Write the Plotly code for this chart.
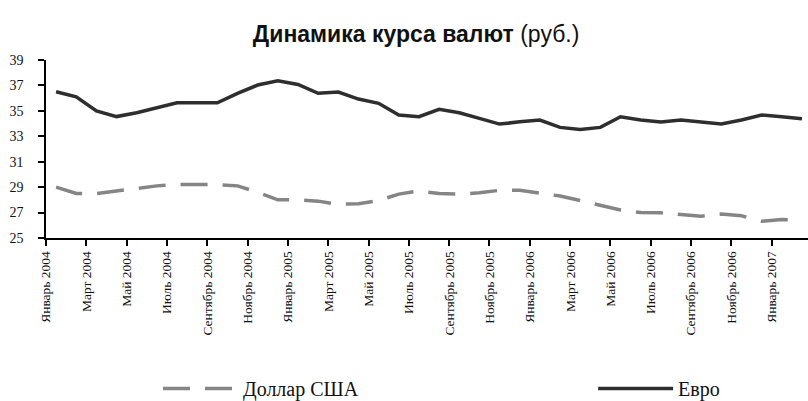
import plotly.graph_objects as go

months = ["Январь", "Февраль", "Март", "Апрель", "Май", "Июнь", "Июль", "Август",
          "Сентябрь", "Октябрь", "Ноябрь", "Декабрь"]
years = [2004, 2005, 2006, 2007]
categories = [f"{months[m]} {y}" for y in years for m in range(12)][:38]  # Январь 2004 .. Февраль 2007

usd = [29.0, 28.5, 28.5, 28.7, 28.85, 29.1, 29.2, 29.2, 29.2, 29.1, 28.6, 28.0,
       28.0, 27.9, 27.65, 27.7, 27.95, 28.45, 28.7, 28.5, 28.45, 28.55, 28.75, 28.75,
       28.5, 28.3, 27.95, 27.6, 27.2, 27.0, 26.98, 26.85, 26.72, 26.88, 26.75, 26.32,
       26.45, 26.4]
eur = [36.5, 36.1, 35.0, 34.55, 34.85, 35.27, 35.64, 35.64, 35.64, 36.38, 37.03, 37.37,
       37.08, 36.38, 36.48, 35.93, 35.59, 34.67, 34.54, 35.12, 34.85, 34.41, 33.96, 34.14,
       34.28, 33.7, 33.54, 33.7, 34.54, 34.28, 34.12, 34.28, 34.14, 33.96, 34.28, 34.67,
       34.54, 34.38]

y_ticks = [25, 27, 29, 31, 33, 35, 37, 39]

idx = list(range(len(categories)))
tick_pos = [i - 0.5 for i in idx if i % 2 == 0]
tick_text = [categories[i] for i in idx if i % 2 == 0]

serif = "Liberation Serif, Times New Roman, serif"

fig = go.Figure()
fig.add_trace(go.Scatter(
    x=idx, y=usd, mode="lines", name="Доллар США", legend="legend",
    line=dict(color="#858585", width=3.5, dash="27px,15px"),
    customdata=categories, hovertemplate="%{customdata}: %{y}<extra></extra>"))
fig.add_trace(go.Scatter(
    x=idx, y=eur, mode="lines", name="Евро", legend="legend2",
    line=dict(color="#2e2e2e", width=3.5),
    customdata=categories, hovertemplate="%{customdata}: %{y}<extra></extra>"))

legend_common = dict(orientation="h", xanchor="left", y=-0.845, yanchor="middle",
                     font=dict(family=serif, size=20, color="#111111"),
                     itemwidth=75, bgcolor="rgba(0,0,0,0)")

fig.update_layout(
    width=808, height=401,
    margin=dict(l=46, r=0, t=60, b=163, autoexpand=False),
    paper_bgcolor="white", plot_bgcolor="white",
    title=dict(text="<b>Динамика курса валют</b> (руб.)",
               font=dict(family="Liberation Sans Narrow, Arial Narrow, Liberation Sans, Arial, sans-serif",
                         size=23, color="#111111"),
               x=0.515, xanchor="center", y=0.915, yanchor="middle"),
    showlegend=True,
    legend=dict(x=0.147, **legend_common),
    legend2=dict(x=0.718, **legend_common),
    xaxis=dict(range=[-0.5, 37.3], tickmode="array", tickvals=tick_pos, ticktext=tick_text,
               tickangle=-90, ticks="outside", ticklen=6, tickwidth=1.5, tickcolor="black",
               showline=True, linecolor="black", linewidth=1.5, showgrid=False, zeroline=False,
               automargin=False,
               tickfont=dict(family=serif, size=13.5, color="#111111")),
    yaxis=dict(range=[25, 39], tickmode="array", tickvals=y_ticks,
               ticks="outside", ticklen=6, tickwidth=1.5, tickcolor="black",
               ticklabelstandoff=12, automargin=False,
               showline=True, linecolor="black", linewidth=1.5, showgrid=False, zeroline=False,
               tickfont=dict(family=serif, size=14, color="#111111")),
)

fig.write_html("out.html", config={"displayModeBar": False},
               post_script="document.body.style.margin='0';")
